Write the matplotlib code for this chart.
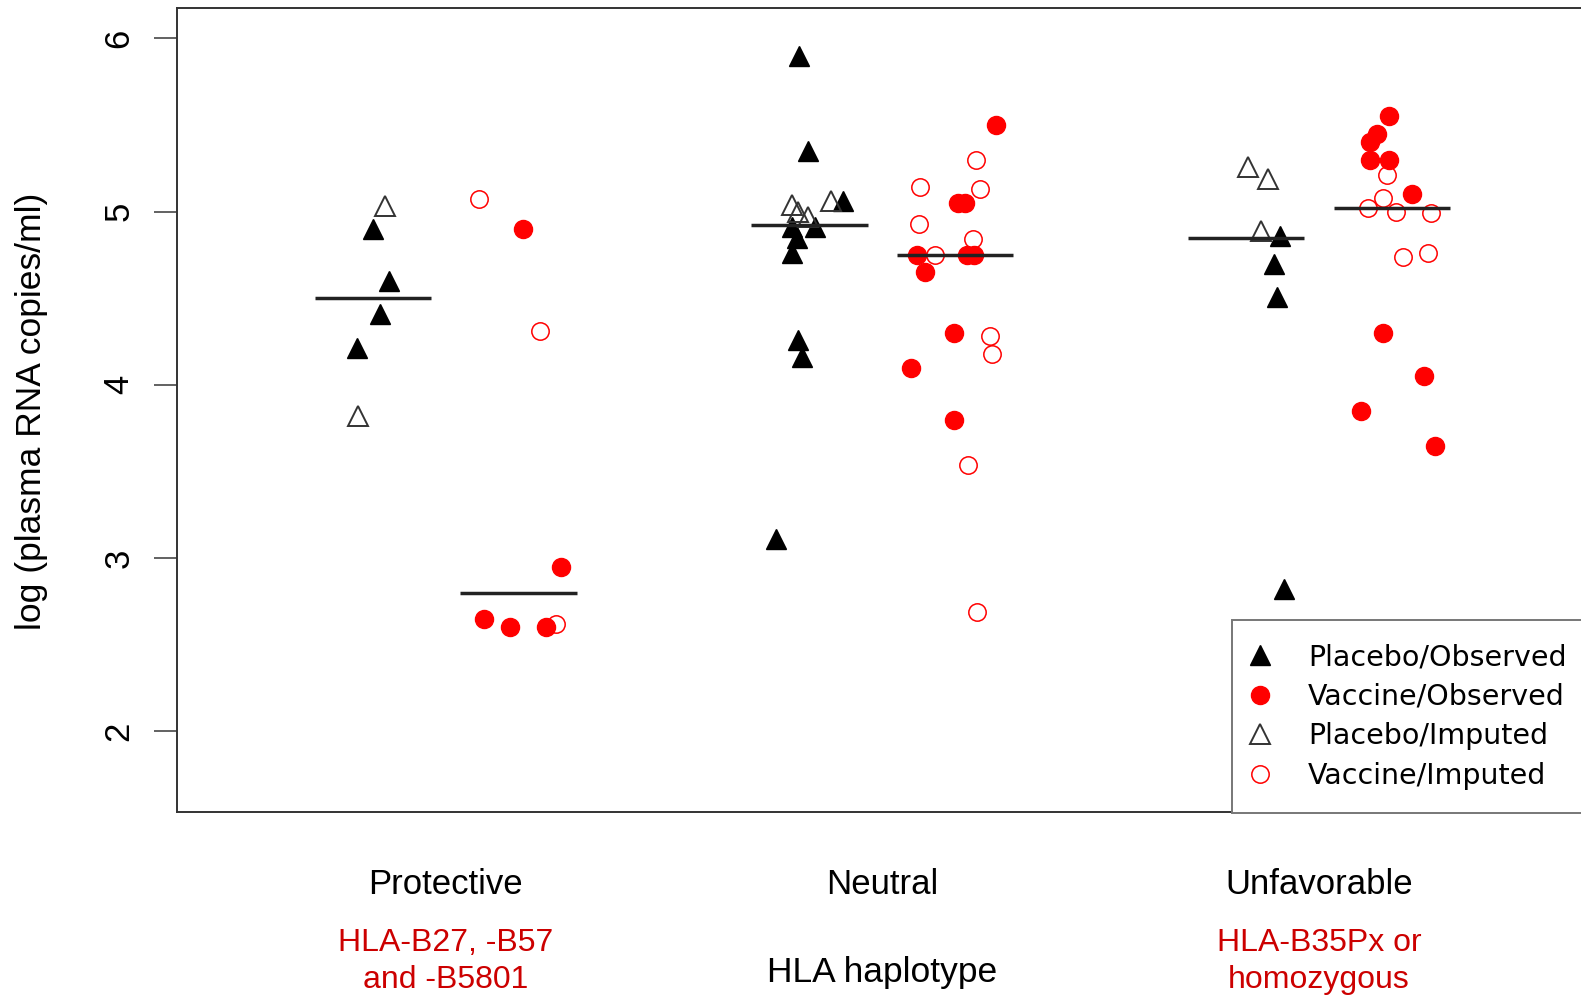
import numpy as np
import matplotlib
matplotlib.use('Agg')
import matplotlib.pyplot as plt
from matplotlib import transforms

plt.rcParams['font.family'] = ['Liberation Sans', 'DejaVu Sans']

groups = ['Protective', 'Neutral', 'Unfavorable']
group_notes = [['HLA-B27, -B57', 'and -B5801'], [], ['HLA-B35Px or', 'homozygous']]

# group index, horizontal jitter (fraction of slot) and log viral load
plc_obs_grp = [0, 0, 0, 0, 1, 1, 1, 1, 1, 1, 1, 1, 1, 1, 2, 2, 2, 2]
plc_obs_dx = [0.0, 0.11, 0.05, -0.11, -0.07, -0.01, 0.23, -0.12, -0.09, 0.04, -0.12, -0.08, -0.05, -0.23,
              0.23, 0.19, 0.21, 0.26]
plc_obs_y = [4.90, 4.60, 4.41, 4.21, 5.90, 5.35, 5.06, 4.91, 4.85, 4.91, 4.76, 4.26, 4.16, 3.11,
             4.86, 4.70, 4.51, 2.82]

vac_obs_grp = [0, 0, 0, 0, 0, 1, 1, 1, 1, 1, 1, 1, 1, 1, 1, 2, 2, 2, 2, 2, 2, 2, 2, 2, 2]
vac_obs_dx = [0.03, 0.29, -0.24, -0.06, 0.19,
              0.28, 0.07, 0.02, -0.26, 0.08, 0.13, -0.21, -0.01, -0.30, -0.01,
              -0.02, -0.10, -0.15, -0.15, -0.02, 0.14, -0.06, 0.22, -0.21, 0.30]
vac_obs_y = [4.90, 2.95, 2.65, 2.60, 2.60,
             5.50, 5.05, 5.05, 4.75, 4.75, 4.75, 4.65, 4.30, 4.10, 3.80,
             5.55, 5.45, 5.40, 5.30, 5.30, 5.10, 4.30, 4.05, 3.85, 3.65]

plc_imp_grp = [0, 0, 1, 1, 1, 1, 2, 2, 2]
plc_imp_dx = [0.08, -0.10, -0.12, -0.08, -0.01, 0.15, 0.01, 0.15, 0.10]
plc_imp_y = [5.03, 3.82, 5.04, 5.00, 4.97, 5.06, 5.26, 5.19, 4.89]

vac_imp_grp = [0, 0, 0, 1, 1, 1, 1, 1, 1, 1, 1, 1, 1, 2, 2, 2, 2, 2, 2, 2]
vac_imp_dx = [-0.27, 0.15, 0.26,
              0.14, -0.24, 0.17, -0.25, 0.12, -0.14, 0.24, 0.25, 0.09, 0.15,
              -0.03, -0.06, -0.16, 0.03, 0.27, 0.08, 0.25]
vac_imp_y = [5.07, 4.31, 2.62,
             5.30, 5.14, 5.13, 4.93, 4.84, 4.75, 4.28, 4.18, 3.54, 2.69,
             5.21, 5.08, 5.02, 5.00, 4.99, 4.74, 4.76]

plc_median = [4.50, 4.92, 4.85]
vac_median = [2.80, 4.75, 5.02]


def xpos(grp, dx, arm):
    # placebo slot at 3g+1, vaccine slot at 3g+2
    return np.array(grp) * 3 + 1 + arm + np.array(dx)


W, H = 1581, 996
fig = plt.figure(figsize=(W / 100, H / 100), dpi=100)
ax = fig.add_axes([176.5 / W, 1 - 812 / H, (1613 - 176.5) / W, (812 - 8) / H])

red = '#ff0000'
ax.plot(xpos(plc_obs_grp, plc_obs_dx, 0), plc_obs_y, ls='none', marker='^', ms=14.5,
        color='black', label='Placebo/Observed')
ax.plot(xpos(vac_obs_grp, vac_obs_dx, 1), vac_obs_y, ls='none', marker='o', ms=13,
        color=red, mec=red, label='Vaccine/Observed')
ax.plot(xpos(plc_imp_grp, plc_imp_dx, 0), plc_imp_y, ls='none', marker='^', ms=14.5,
        mfc='none', mec='#333333', mew=1.4, label='Placebo/Imputed')
ax.plot(xpos(vac_imp_grp, vac_imp_dx, 1), vac_imp_y, ls='none', marker='o', ms=12.5,
        mfc='none', mec=red, mew=1.1, label='Vaccine/Imputed')

for g in range(3):
    ax.hlines(plc_median[g], 3 * g + 1 - 0.4, 3 * g + 1 + 0.4, color='#222222', lw=2.5)
    ax.hlines(vac_median[g], 3 * g + 2 - 0.4, 3 * g + 2 + 0.4, color='#222222', lw=2.5)

ax.set_xlim(-0.35, 9.52)
ax.set_ylim(1.535, 6.175)
ax.set_xticks([])
ax.set_yticks([2, 3, 4, 5, 6])
ax.tick_params(axis='y', length=16.5, width=1.3, color='#555555', pad=13, labelsize=25,
               labelrotation=90)
for lab in ax.get_yticklabels():
    lab.set_va('center')
for s in ax.spines.values():
    s.set_color('#333333')
    s.set_linewidth(1.4)

fig.text(32 / W, 1 - 411 / H, 'log (plasma RNA copies/ml)', rotation=90, ha='center', va='center',
         fontsize=25.5)

tr = transforms.blended_transform_factory(ax.transData, fig.transFigure)
for g, name in enumerate(groups):
    xc = 3 * g + 1.5
    ax.text(xc, 1 - 885 / H, name, transform=tr, ha='center', va='center', fontsize=25)
    for k, line in enumerate(group_notes[g]):
        ax.text(xc, 1 - (943 + 37 * k) / H, line, transform=tr, ha='center', va='center',
                fontsize=23, color='#cc0000')
ax.text(4.5, 1 - 972 / H, 'HLA haplotype', transform=tr, ha='center', va='center', fontsize=25.5)

leg = fig.legend(loc='upper left', bbox_to_anchor=(1232 / W, 1 - 620 / H),
                 bbox_transform=fig.transFigure, borderaxespad=0, fancybox=False,
                 edgecolor='#777777', framealpha=1, borderpad=0.82, labelspacing=0.4,
                 handlelength=0.3, handletextpad=1.55,
                 prop={'family': 'DejaVu Sans', 'size': 20.5})
leg.get_frame().set_linewidth(1.4)

fig.savefig('out.png', dpi=100)
